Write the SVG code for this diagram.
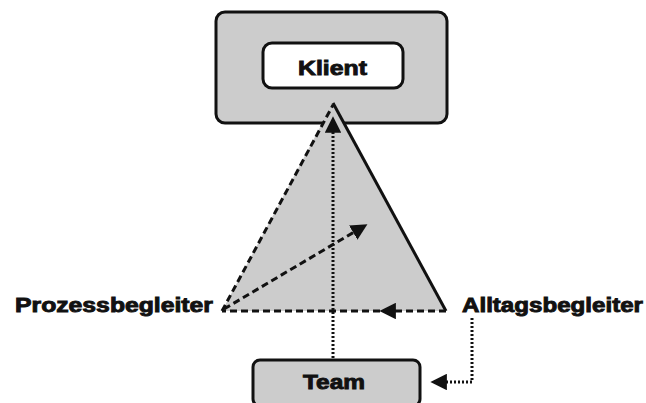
<svg xmlns="http://www.w3.org/2000/svg" width="646" height="403" viewBox="0 0 646 403">
<defs>
<style>
.box{fill:#cccccc;stroke:#111;stroke-width:3}
.inner{fill:#fff;stroke:#111;stroke-width:3}
.lbl{font-family:"Liberation Sans",Arial,sans-serif;font-weight:bold;font-size:20px;fill:#111;stroke:#111;stroke-width:0.9}
.dash{fill:none;stroke:#111;stroke-width:3;stroke-dasharray:7 4}
.dot{fill:none;stroke:#111;stroke-width:3;stroke-dasharray:2 2}
</style>
<marker id="ah" viewBox="0 0 10 10" refX="9" refY="5" markerWidth="5.5" markerHeight="5.5" orient="auto" markerUnits="strokeWidth">
<path d="M0,0 L10,5 L0,10 z" fill="#111"/>
</marker>
</defs>
<rect width="646" height="403" fill="#fff"/>
<g id="klient">
<rect class="box" x="216" y="12" width="231" height="111" rx="9"/>
<rect class="inner" x="263" y="43" width="140" height="45" rx="9"/>
<text class="lbl" x="298" y="75" textLength="69" lengthAdjust="spacingAndGlyphs">Klient</text>
</g>
<g id="triangle">
<polygon points="333,103 446,311 222,311" fill="#cccccc" stroke="none"/>
<line x1="333" y1="103" x2="446" y2="311" stroke="#111" stroke-width="3"/>
</g>
<g id="team">
<rect class="box" x="253" y="360" width="167" height="46" rx="7"/>
<text class="lbl" x="303" y="389" textLength="62" lengthAdjust="spacingAndGlyphs">Team</text>
</g>
<g id="prozessbegleiter">
<text class="lbl" x="15" y="312" textLength="198" lengthAdjust="spacingAndGlyphs">Prozessbegleiter</text>
</g>
<g id="alltagsbegleiter">
<text class="lbl" x="462" y="312" textLength="181" lengthAdjust="spacingAndGlyphs">Alltagsbegleiter</text>
</g>
<g id="connectors">
<line class="dash" x1="222" y1="311" x2="333" y2="105"/>
<line class="dash" x1="446" y1="311" x2="222" y2="311"/>
<path d="M446,311 L381,311" fill="none" stroke="none" marker-end="url(#ah)" stroke-width="3"/>
<line class="dash" x1="224" y1="309" x2="366" y2="225" marker-end="url(#ah)"/>
<line class="dot" x1="333" y1="358" x2="333" y2="118" marker-end="url(#ah)"/>
<polyline class="dot" points="472,318 472,382 432,382" marker-end="url(#ah)"/>
</g>
</svg>
